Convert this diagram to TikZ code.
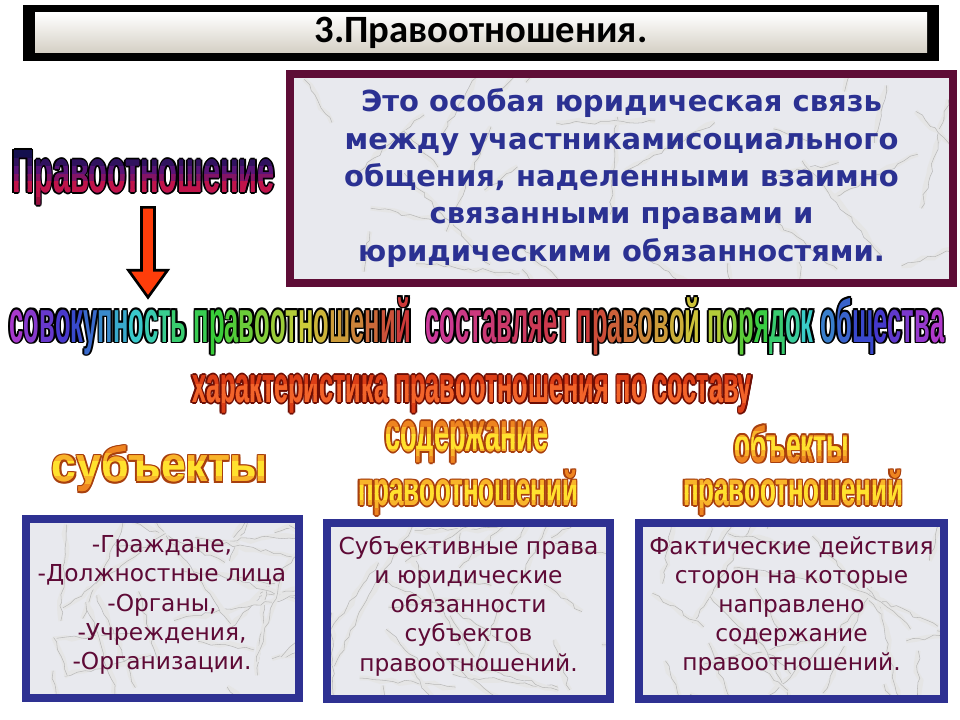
\documentclass[tikz,border=0pt]{standalone}
\usepackage{fontspec}
\usepackage{graphicx}
\usetikzlibrary{calc, decorations.pathmorphing}

\newfontfamily\calibri{Carlito}
\newfontfamily\tahoma{DejaVu Sans}
\newfontfamily\wafont{Liberation Sans}

\definecolor{titlebot}{HTML}{D4CFC4}
\definecolor{defborder}{HTML}{5E0D36}
\definecolor{deftext}{HTML}{2B3192}
\definecolor{boxborder}{HTML}{2E3192}
\definecolor{boxtext}{HTML}{5E0A36}
\definecolor{marblebase}{HTML}{E8E9EE}
\definecolor{arrowred}{HTML}{FF3D0A}
\definecolor{waorange}{HTML}{EE8420}
\definecolor{wamid}{HTML}{F8B42A}
\definecolor{wayellow}{HTML}{FFE22E}
\definecolor{wabrown}{HTML}{A8400E}
\definecolor{redline}{HTML}{DC3E16}
\definecolor{redmid}{HTML}{F2642A}
\definecolor{reddark}{HTML}{6E0E04}
\definecolor{pnavy}{HTML}{14104E}
\definecolor{ppurple}{HTML}{5A1478}
\definecolor{pcrim}{HTML}{C0144A}

% WordArt: outlined, stretched text
\newif\ifwaplain
\newsavebox\waback
\newsavebox\wafront
\newcommand\waout[4]{%
  \sbox\waback{\waplaintrue\color{#1}\resizebox*{#2}{#3}{#4}}%
  \sbox\wafront{\resizebox*{#2}{#3}{#4}}%
  \foreach \dx/\dy in {1.3/0,-1.3/0,0/1.3,0/-1.3,0.9/0.9,0.9/-0.9,-0.9/0.9,-0.9/-0.9}{%
    \rlap{\kern\dx pt\smash{\raisebox{\dy pt}{\usebox\waback}}}}%
  \usebox\wafront}

% vertical colour bands over a WordArt node
\newcommand\wabands[6]{%
  \foreach \c [count=\i] in {#5}{%
    \pgfmathsetmacro\fa{(\i-1)/#6}%
    \pgfmathsetmacro\fb{min(1,\i/#6+0.02)}%
    \begin{scope}
      \clip ($(#1.north west)!\fa!(#1.south west)+(-4,0)$) rectangle ($(#1.north east)!\fb!(#1.south east)+(4,0)$);
      \node[wa, text=\c] (#1-\i) at (#1.center) {\resizebox*{#2}{#3}{#4}};
    \end{scope}}}

% rainbow letters
\newcount\rbhue
\newcount\rbstep
\newcommand\rbword[3]{\rbhue=#1\relax\rbstep=#2\relax\rbscan#3\relax}
\def\rbscan#1{\ifx#1\relax\else\rbletter{#1}\advance\rbhue\rbstep\expandafter\rbscan\fi}
\newcommand\rbletter[1]{\ifwaplain#1\else\definecolor{rbtmp}{Hsb}{\the\rbhue,0.72,0.8}{\color{rbtmp}#1}\fi}

% marble fill
\newcommand\marble[4]{%
  \begin{scope}
    \clip (#1,#2) rectangle (#3,#4);
    \fill[marblebase] (#1,#2) rectangle (#3,#4);
    \foreach \k in {1,...,30}{
      \pgfmathsetmacro\vx{#1+rnd*(#3-#1)}
      \pgfmathsetmacro\vy{#2+rnd*(#4-#2)}
      \pgfmathsetmacro\va{rnd*180-90}
      \pgfmathsetmacro\vl{40+rnd*90}
      \draw[veinsoft] (\vx,\vy) -- ++(\va:\vl);
      \draw[vein] (\vx,\vy) -- ++(\va:\vl);
    }
  \end{scope}}

\begin{document}
\begin{tikzpicture}[x=0.75pt,y=-0.75pt]

% Define styles
\tikzstyle{wa}=[inner sep=0pt, outer sep=0pt, font=\wafont\bfseries]
\tikzstyle{vein}=[draw=gray!55, line width=0.4pt, decorate, decoration={random steps, segment length=5pt, amplitude=1.5pt}]
\tikzstyle{veinsoft}=[draw=gray!20, line width=3.5pt, decorate, decoration={random steps, segment length=8pt, amplitude=2pt}]
\tikzstyle{deftxt}=[align=center, text=deftext, font={\tahoma\bfseries\fontsize{21.75}{28.1}\selectfont}]
\tikzstyle{boxtxt}=[align=center, text=boxtext, font={\tahoma\fontsize{17.5}{21.9}\selectfont}]
\tikzstyle{bluebox}=[draw=boxborder, line width=6pt]
\tikzstyle{arrowbody}=[fill=arrowred, draw=black, line width=2pt, line join=miter]

\pgfmathsetseed{4242}
\useasboundingbox (0,0) rectangle (960,720);
\fill[white] (0,0) rectangle (960,720);

% Title bar
\fill[black] (23,5) rectangle (939,61);
\shade[top color=white, bottom color=titlebot] (35,13) rectangle (927,53);
\node[font={\calibri\bfseries\fontsize{29}{32}\selectfont}] (title) at (481,33) {3.Правоотношения.};

% Definition box
\marble{290}{74}{953}{283}
\draw[defborder, line width=6pt] (290,74) rectangle (953,283);
\node[deftxt] (defn) at (621.5,178) {Это особая юридическая связь\\
  между участникамисоциального\\ общения, наделенными взаимно\\
  связанными правами и\\ юридическими обязанностями.};

% Word "Правоотношение"
\node[wa, text=ppurple] (prav) at (143.5,178) {\waout{black}{197pt}{41pt}{Правоотношение}};
\wabands{prav}{197pt}{41pt}{Правоотношение}{pnavy,pnavy!60!ppurple,ppurple,ppurple!60!pcrim,pcrim,pcrim,pcrim!80!black}{7}

% Rainbow line
\node[wa] (whole) at (477,326) {\waout{black}{701pt}{43pt}{\rbword{285}{-13}{совокупность}\ \rbword{130}{-10}{правоотношений}\ \ \rbword{320}{4}{составляет}\ \rbword{0}{8}{правовой}\ \rbword{70}{18}{порядок}\ \rbword{212}{11}{общества}}};

% Arrow
\coordinate (arrtop) at ($(prav.south)+(4.5,2)$);
\coordinate (arrtip) at (arrtop |- whole.north);
\draw[arrowbody] ($(arrtop)+(-6.5,0)$) -- ($(arrtip)+(-6.5,-27)$) -- ($(arrtip)+(-19.5,-27)$) -- (arrtip)
  -- ($(arrtip)+(19.5,-27)$) -- ($(arrtip)+(6.5,-27)$) -- ($(arrtop)+(6.5,0)$) -- cycle;

% Characteristic line
\node[wa, text=redline] (harakt) at (472,394) {\waout{reddark}{420pt}{28.5pt}{характеристика правоотношения по составу}};
\wabands{harakt}{420pt}{28.5pt}{характеристика правоотношения по составу}{redline,redmid,redmid,redline}{4}

% Column headings
\node[wa, text=waorange] (subj) at (160,469) {\waout{wabrown}{162pt}{34.5pt}{субъекты}};
\wabands{subj}{162pt}{34.5pt}{субъекты}{waorange,wamid,wayellow,wayellow,wamid,waorange}{6}

\node[wa, text=waorange] (sod) at (467,442) {\waout{wabrown}{122pt}{31.5pt}{содержание}};
\wabands{sod}{122pt}{31.5pt}{содержание}{waorange,wamid,wayellow,wayellow,wamid,waorange}{6}
\node[wa, text=waorange] (sodpr) at (468,493) {\waout{wabrown}{165pt}{34pt}{правоотношений}};
\wabands{sodpr}{165pt}{34pt}{правоотношений}{waorange,wamid,wayellow,wayellow,wamid,waorange}{6}

\node[wa, text=waorange] (obj) at (792,444) {\waout{wabrown}{86pt}{28pt}{объекты}};
\wabands{obj}{86pt}{28pt}{объекты}{waorange,wamid,wayellow,wayellow,wamid,waorange}{6}
\node[wa, text=waorange] (objpr) at (793,493) {\waout{wabrown}{165pt}{34pt}{правоотношений}};
\wabands{objpr}{165pt}{34pt}{правоотношений}{waorange,wamid,wayellow,wayellow,wamid,waorange}{6}

% Boxes
\marble{26}{519}{299}{698}
\draw[bluebox] (26,519) rectangle (299,698);
\node[boxtxt] (subjlist) at (162,605) {-Граждане,\\ -Должностные лица\\ -Органы,\\ -Учреждения,\\ -Организации.};

\marble{327}{523}{610}{699}
\draw[bluebox] (327,523) rectangle (610,699);
\node[boxtxt] (sodlist) at (468.5,606) {Субъективные права\\ и юридические\\ обязанности\\ субъектов\\ правоотношений.};

\marble{639}{523}{944}{699}
\draw[bluebox] (639,523) rectangle (944,699);
\node[boxtxt] (objlist) at (791.5,606) {Фактические действия\\ сторон на которые\\ направлено\\ содержание\\ правоотношений.};

\end{tikzpicture}
\end{document}
